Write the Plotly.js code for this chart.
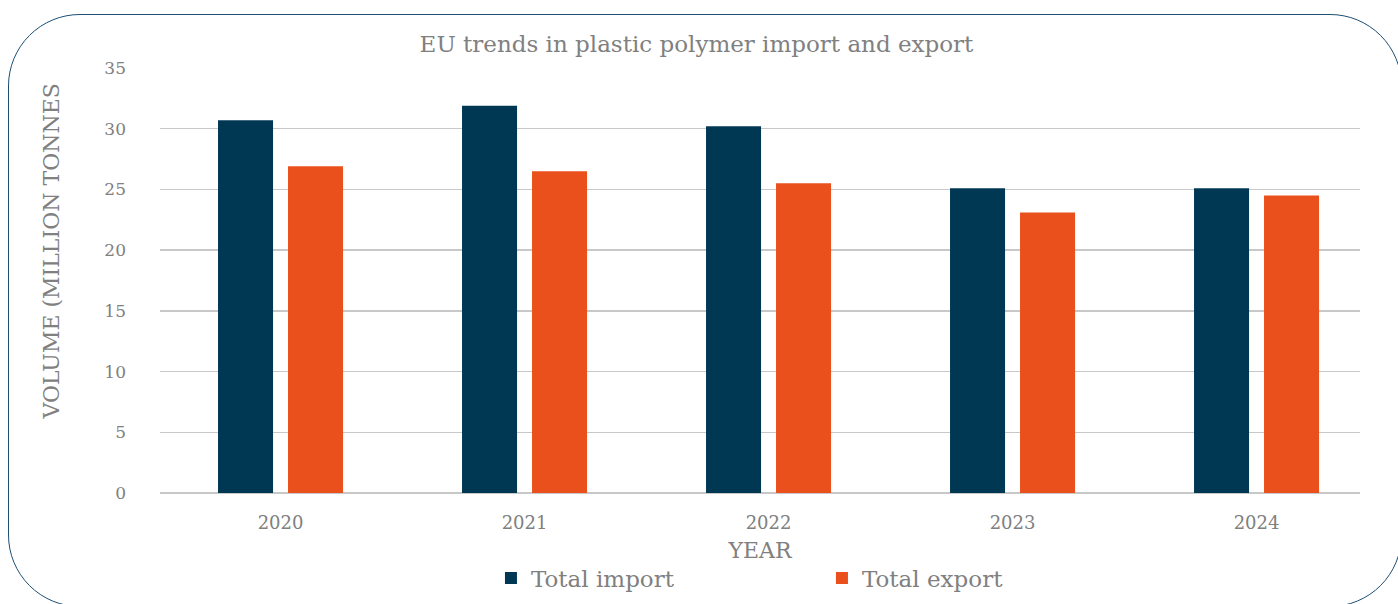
<!DOCTYPE html>
<html>
<head>
<meta charset="utf-8">
<script src="https://cdn.plot.ly/plotly-3.0.1.min.js"></script>
<style>
  html, body { margin: 0; padding: 0; background: #ffffff; overflow: hidden; }
  #wrap { position: relative; width: 1398px; height: 604px; }
  #chart { position: absolute; left: 0; top: 0; width: 1398px; height: 604px; }
  #frame { position: absolute; left: 8px; top: 14px; width: 1394px; height: 593px;
           border: 1.3px solid #1d4f73; border-radius: 72px; box-sizing: border-box;
           pointer-events: none; }
</style>
</head>
<body>
<div id="wrap">
  <div id="chart"></div>
  <div id="frame"></div>
</div>
<script>
const years = ['2020', '2021', '2022', '2023', '2024'];
const totalImport = [30.7, 31.9, 30.2, 25.1, 25.1];
const totalExport = [26.9, 26.5, 25.5, 23.1, 24.5];
const seriesNames = ['Total import', 'Total export'];
const yTicks = [0, 5, 10, 15, 20, 25, 30, 35];
const yTitle = 'VOLUME (MILLION TONNES';

const FONT = 'DejaVu Serif, Liberation Serif, serif';
const GRAY = '#808080';

const traces = [
  { type: 'bar', name: seriesNames[0], x: years, y: totalImport,
    marker: { color: '#003854' }, hoverinfo: 'x+y+name' },
  { type: 'bar', name: seriesNames[1], x: years, y: totalExport,
    marker: { color: '#ea501c' }, hoverinfo: 'x+y+name' }
];

const layout = {
  width: 1398, height: 604,
  margin: { l: 160, r: 38, t: 68, b: 111, pad: 0, autoexpand: false },
  paper_bgcolor: 'rgba(0,0,0,0)',
  plot_bgcolor: 'rgba(0,0,0,0)',
  barmode: 'group',
  bargap: 0.4262,
  bargroupgap: 0.214,
  font: { family: FONT, color: GRAY },
  title: { text: 'EU trends in plastic polymer import and export',
           font: { family: FONT, size: 23, color: GRAY },
           x: 0.4982, xref: 'container', xanchor: 'center', y: 0.927, yref: 'container', yanchor: 'middle' },
  xaxis: {
    type: 'category',
    range: [-0.494, 4.424],
    automargin: false,
    showgrid: false, zeroline: false, showline: false, ticks: '',
    tickfont: { family: FONT, size: 18, color: GRAY },
    ticklabelstandoff: 17,
    title: { text: 'YEAR', font: { family: FONT, size: 22, color: GRAY }, standoff: 10 }
  },
  yaxis: {
    range: [0, 35],
    tickvals: yTicks,
    automargin: false,
    showgrid: true, gridcolor: '#c8c8c8', gridwidth: 1.3,
    zeroline: true, zerolinecolor: '#c8c8c8', zerolinewidth: 1.3,
    showline: false, ticks: '',
    tickfont: { family: FONT, size: 17, color: GRAY },
    ticklabelstandoff: 33
  },
  annotations: [{
    text: yTitle, textangle: -90, showarrow: false,
    xref: 'paper', yref: 'paper', x: -0.09, y: 0.568,
    xanchor: 'center', yanchor: 'middle',
    font: { family: FONT, size: 22, color: GRAY }
  }],
  legend: {
    orientation: 'h',
    x: 0.2758, xanchor: 'left',
    y: -0.2, yanchor: 'middle',
    font: { family: FONT, size: 23, color: GRAY },
    entrywidth: 286, entrywidthmode: 'pixels',
    bgcolor: 'rgba(0,0,0,0)'
  },
  showlegend: true
};

Plotly.newPlot('chart', traces, layout, { displayModeBar: false, staticPlot: true });
</script>
</body>
</html>
